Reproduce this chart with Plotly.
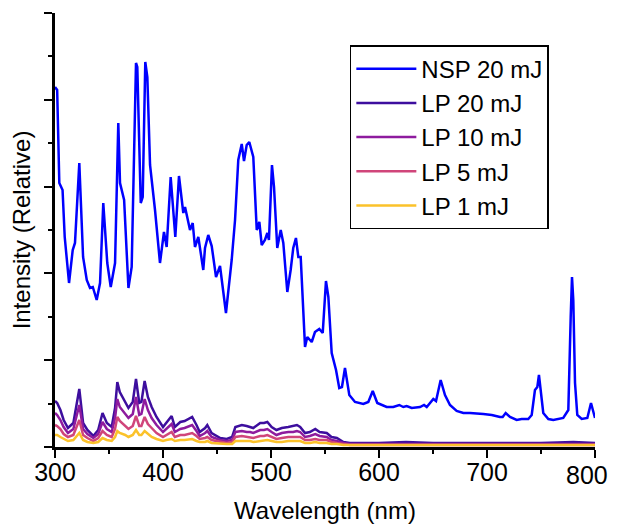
import plotly.graph_objects as go

# NSP 20 mJ spectrum (wavelength nm, relative intensity)
nsp_wl = [300, 302, 304, 306, 307, 309, 313, 316.4, 318.5, 322.5, 326, 329.4, 332.4, 335, 338.6,
          341.7, 344.7, 348.4, 351.6, 355.6, 358.6, 360.2, 364, 368, 371, 375, 376.2, 379.4, 381.2,
          383.6, 385.5, 388, 392.6, 397.2, 400.9, 403.4, 407.1, 411.4, 414.8, 418.8, 420.4, 425,
          427.5, 429.6, 432.7, 437.3, 438.9, 441.9, 445.1, 449.1, 452.8, 458.3, 463.6, 466.7, 469.7,
          472.9, 475, 477.5, 479.9, 483.6, 486.8, 489.2, 491.4, 494.4, 496.6, 498.1, 500.9, 502.8,
          505.8, 509, 511.4, 515.1, 518.2, 520.6, 523.1, 525.3, 527.5, 531.5, 533.6, 537.7, 540.7,
          544.7, 547.9, 550.9, 553.1, 556.2, 560.2, 563.2, 565.7, 568.5, 572.5, 577.8, 585.5, 590.1,
          594.2, 598.4, 607.1, 613.2, 618.8, 622.5, 625.6, 630.3, 638, 641.7, 644.2, 650.3, 652.8,
          657.1, 661.1, 665.7, 671.9, 678.1, 684.3, 696.6, 704.4, 712, 714.5, 717.3, 721.3, 727.5,
          732.1, 738.2, 741.4, 744.4, 746.6, 748.1, 749.7, 752.1, 756.8, 761.4, 770.6, 775.3, 777.5,
          778.7, 779.9, 781.5, 783.6, 787.7, 792.9, 796.3, 800]
nsp_int = [360, 357, 264, 260, 257, 210, 164, 197, 204, 284, 190, 167, 159, 160, 147,
           164, 244, 184, 160, 184, 324, 264, 247, 159, 180, 384, 380, 244, 250,
           385, 370, 282, 237, 184, 215, 200, 270, 210, 271, 234, 240, 217,
           224, 200, 210, 177, 199, 212, 201, 170, 181, 134, 187, 227, 287,
           303, 286, 302, 305, 290, 217, 225, 202, 207, 214, 207, 282, 260,
           199, 217, 204, 155, 177, 199, 209, 190, 190, 100, 110, 105, 115,
           118, 114, 166, 150, 94, 77, 59, 60, 79, 52, 45, 43, 45,
           56, 44, 40, 40, 42, 40, 41, 39, 40, 42, 40, 48, 46,
           67, 52, 42, 36, 34, 34, 33, 32, 30, 30, 34, 30, 27,
           28, 28, 32, 57, 60, 72, 57, 34, 28, 27, 29, 37, 130,
           170, 147, 64, 32, 28, 29, 44, 29]

# LP spectra share one wavelength grid
lp_wl = [300, 302, 305, 308, 312, 317, 322.5, 326, 330, 335.5, 340, 344, 348, 352.5, 355.6,
         357.7, 360, 365, 368, 372, 375, 378, 380, 383, 386, 389.5, 394, 400, 403, 408, 411,
         416, 420, 427, 431, 434, 439, 441, 445, 453, 459, 464, 467, 473, 477.5, 480.6, 483.6,
         490, 493.5, 496.6, 500.6, 505, 510, 516, 520.6, 524, 527, 531.5, 536, 541, 545, 551.6,
         556, 561, 567, 573, 600, 625, 650, 700, 750, 780, 800]
lp20_int = [46, 44, 37, 27, 19, 24, 58, 24, 17, 11, 17, 34, 24, 20, 39,
            65, 55, 45, 39, 45, 68, 44, 45, 66, 50, 40, 30, 20, 24, 31, 20,
            25, 26, 30, 22, 15, 19, 22, 14, 9, 8, 10, 20, 22, 21, 20, 19,
            24, 24, 25, 20, 17, 19, 20, 21, 22, 20, 14, 15, 18, 15, 14,
            10, 9, 5, 4, 4, 5, 4, 4, 4, 5, 4]
lp10_int = [34, 32, 27, 20, 14, 18, 42, 18, 13, 9, 13, 25, 18, 15, 29,
            48, 40, 33, 29, 33, 50, 32, 33, 48, 37, 29, 22, 15, 18, 23, 15,
            18, 19, 22, 16, 11, 14, 16, 10, 7, 6, 7, 15, 16, 15, 15, 14,
            17, 17, 18, 15, 12, 14, 15, 15, 16, 15, 10, 11, 13, 11, 10,
            7, 6, 4, 3, 3, 3, 3, 3, 3, 3, 3]
lp5_int = [22, 21, 18, 13, 10, 12, 27, 12, 9, 6, 9, 16, 12, 10, 18,
           30, 26, 21, 18, 21, 31, 21, 21, 30, 23, 19, 14, 10, 12, 15, 10,
           12, 12, 14, 11, 8, 9, 10, 7, 5, 4, 5, 10, 11, 10, 10, 9,
           11, 11, 12, 10, 8, 9, 10, 10, 10, 10, 7, 7, 8, 7, 7,
           5, 4, 3, 2, 2, 2, 2, 2, 2, 2, 2]
lp1_int = [12, 12, 10, 8, 6, 7, 14, 7, 5, 4, 5, 9, 7, 6, 10,
           16, 14, 12, 10, 12, 17, 12, 12, 16, 13, 10, 8, 6, 7, 8, 6,
           7, 7, 8, 6, 5, 5, 6, 4, 3, 3, 3, 6, 6, 6, 6, 5,
           6, 6, 7, 6, 5, 5, 6, 6, 6, 6, 4, 4, 5, 4, 4,
           3, 3, 2, 2, 2, 2, 2, 2, 2, 2, 2]

x_ticks = [300, 400, 500, 600, 700, 800]
x_ticktext = ['300', '400', '500', '600', '700', '']  # 800 drawn as annotation so it is not clipped

FONT = "Liberation Sans, Arial, sans-serif"

fig = go.Figure()
fig.add_trace(go.Scatter(x=nsp_wl, y=nsp_int, mode='lines', name='NSP 20 mJ',
                         line=dict(color='#0000FF', width=2.5)))
series = [('LP 20 mJ', lp20_int, '#3D0E9E'),
          ('LP 10 mJ', lp10_int, '#8E1B9E'),
          ('LP 5 mJ', lp5_int, '#D0457A'),
          ('LP 1 mJ', lp1_int, '#FBC22A')]
for name, vals, col in series:
    fig.add_trace(go.Scatter(x=lp_wl, y=vals, mode='lines', name=name,
                             line=dict(color=col, width=2.5)))

# page body adds an 8 px margin; keep the figure inside the window
fig.update_layout(
    width=603, height=516,
    margin=dict(l=47, r=16, t=5, b=77, autoexpand=False),
    plot_bgcolor='white', paper_bgcolor='white',
    font=dict(family=FONT, size=24, color='black'),
    legend=dict(x=0.546, y=0.926, xanchor='left', yanchor='top',
                bgcolor='white', bordercolor='black', borderwidth=1.5,
                font=dict(size=24), itemwidth=60, tracegroupgap=0),
)
fig.add_annotation(x=x_ticks[-1], xref='x', y=0, yref='paper', text='800',
                   showarrow=False, xanchor='right', yanchor='middle',
                   xshift=15, yshift=-28, font=dict(size=25))
fig.update_xaxes(
    range=[300, 800], tickmode='array', tickvals=x_ticks, ticktext=x_ticktext,
    automargin=False,
    showline=True, linecolor='black', linewidth=2.5, mirror=False,
    ticks='outside', ticklen=8, tickwidth=2, tickcolor='black',
    minor=dict(tick0=300, dtick=50, ticks='outside', ticklen=4, tickwidth=2, tickcolor='black'),
    showgrid=False, zeroline=False,
    tickfont=dict(size=25), ticklabelstandoff=-7, ticklabeloverflow='allow',
    title=dict(text='Wavelength (nm)', font=dict(size=24), standoff=23),
)
fig.update_yaxes(
    range=[0, 434], dtick=86.8, tick0=0, automargin=False,
    showline=True, linecolor='black', linewidth=2.5, mirror=False,
    ticks='outside', ticklen=8, tickwidth=2, tickcolor='black',
    minor=dict(dtick=43.4, ticks='outside', ticklen=4, tickwidth=2, tickcolor='black'),
    showticklabels=False, showgrid=False, zeroline=False,
    title=dict(text='Intensity (Relative)', font=dict(size=24), standoff=9),
)

fig.write_html("out.html")
